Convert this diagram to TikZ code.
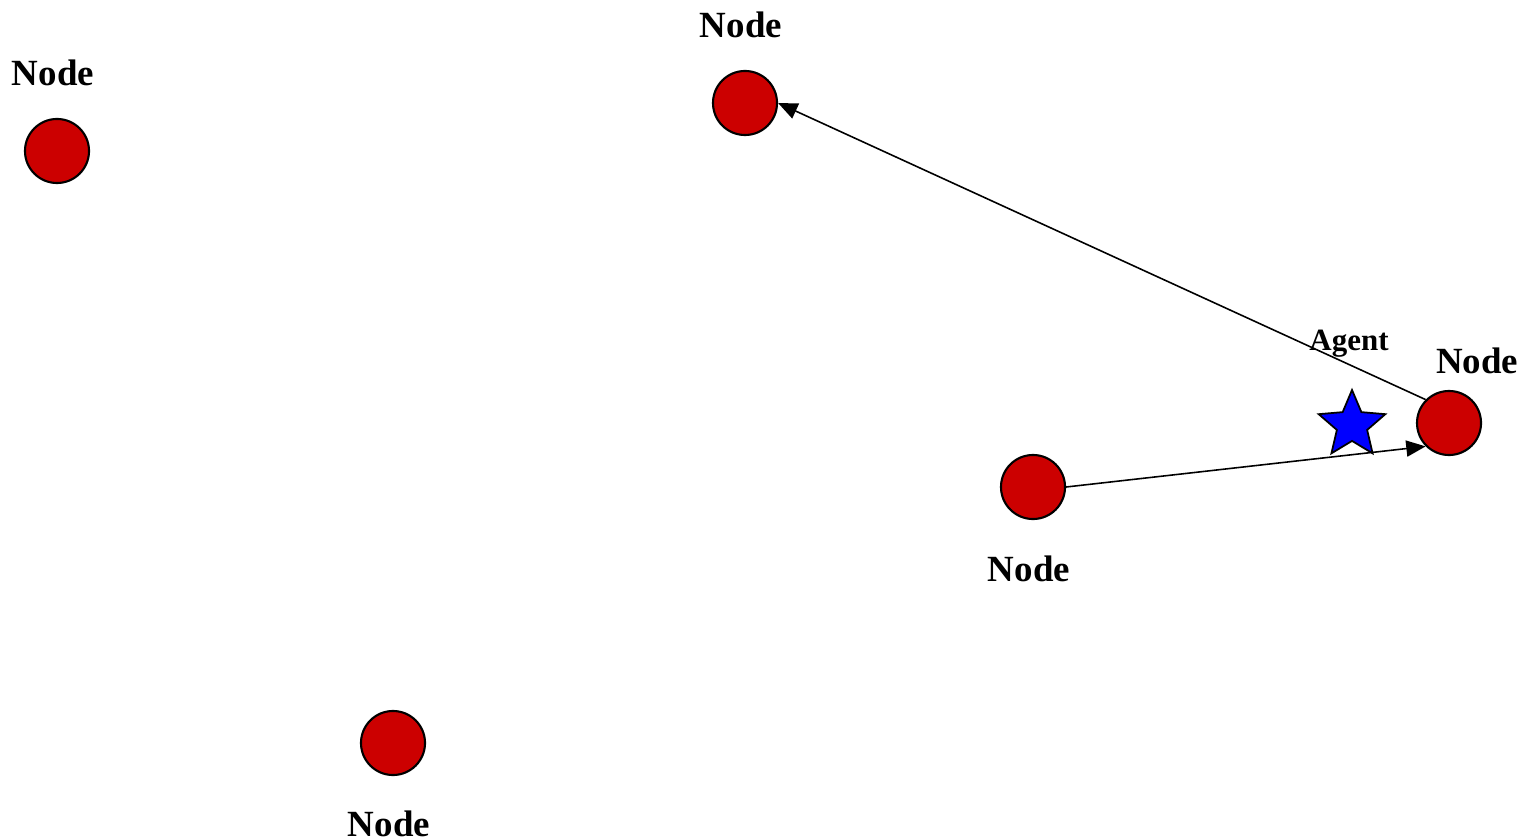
\documentclass[tikz,border=0pt]{standalone}
\usepackage{fontspec}
\setmainfont{Liberation Serif}
\usetikzlibrary{shapes.geometric,arrows.meta}
\definecolor{noderd}{RGB}{204,0,0}
\definecolor{agentbl}{RGB}{0,0,255}
\tikzset{
  place/.style={circle,draw=black,line width=0.6pt,fill=noderd,minimum size=0.64cm,inner sep=0pt},
  nlabel/.style={font=\fontsize{10.5pt}{12pt}\selectfont\bfseries,inner sep=0pt},
  alabel/.style={font=\fontsize{8.8pt}{10pt}\selectfont\bfseries,inner sep=0pt},
  agent/.style={star,star points=5,star point ratio=2.2,minimum size=0.7cm,inner sep=0pt,draw=black,line width=0.5pt,fill=agentbl},
  link/.style={draw=black,line width=0.45pt,-{Triangle[length=5.5pt,width=4.6pt]}}
}
\begin{document}
\begin{tikzpicture}[x=0.01cm,y=-0.01cm]
\useasboundingbox (0,0) rectangle (1528,840);
% places
\node[place] (n1) at (57,151) {};
\node[place] (n2) at (745,103) {};
\node[place] (n3) at (1449,423) {};
\node[place] (n4) at (1033,487) {};
\node[place] (n5) at (393,743) {};
% labels
\node[nlabel] (l1) at (53,73) {Node};
\node[nlabel] (l2) at (741,25) {Node};
\node[nlabel] (l3) at (1477,361) {Node};
\node[nlabel] (l4) at (1029,569) {Node};
\node[nlabel] (l5) at (389,824) {Node};
% links
\draw[link] (n4.east) -- (n3.south west);
\draw[link] (n3.north west) -- (n2.east);
% agent
\node[agent] (ag) at (1352,425) {};
\node[alabel] (agl) at (1349,344) {Agent};
\end{tikzpicture}
\end{document}
